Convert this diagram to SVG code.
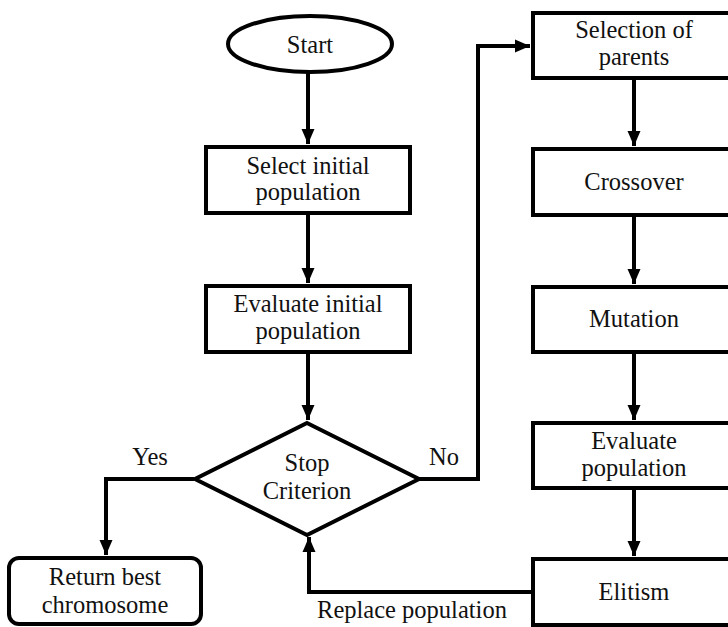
<svg xmlns="http://www.w3.org/2000/svg" width="728" height="627" viewBox="0 0 728 627">
<style>
.n{fill:#fff;stroke:#000;stroke-width:4}
.t{font-family:'Liberation Serif','Times New Roman',serif;font-size:24.5px;fill:#111;text-anchor:middle}
.c{fill:none;stroke:#000;stroke-width:4;marker-end:url(#ah)}
</style>
<defs>
<marker id="ah" markerUnits="userSpaceOnUse" markerWidth="16" markerHeight="16" viewBox="0 0 16 16" refX="15" refY="8" orient="auto">
<path d="M0,1.5 L15,8 L0,14.5 Z" fill="#000"/>
</marker>
</defs>
<rect width="728" height="627" fill="#fff"/>
<g id="connectors">
<path class="c" d="M308,72 V144"/>
<path class="c" d="M308,213 V283"/>
<path class="c" d="M308,353 V420"/>
<path class="c" d="M634,78 V146"/>
<path class="c" d="M634,215 V284"/>
<path class="c" d="M634,352 V420"/>
<path class="c" d="M634,488 V556"/>
<path class="c" d="M194,479 H106 V555"/>
<path class="c" d="M419,479 H478 V46 H530"/>
<path class="c" d="M532,592 H309 V537"/>
<text class="t" x="150" y="465">Yes</text>
<text class="t" x="444" y="465">No</text>
<text class="t" x="412" y="618">Replace population</text>
</g>
<g id="start">
<ellipse class="n" cx="310" cy="44" rx="82" ry="28"/>
<text class="t" x="310" y="53">Start</text>
</g>
<g id="select-initial">
<rect class="n" x="206" y="147" width="204" height="66"/>
<text class="t" x="308" y="174">Select initial</text>
<text class="t" x="308" y="200">population</text>
</g>
<g id="evaluate-initial">
<rect class="n" x="206" y="286" width="204" height="66"/>
<text class="t" x="308" y="312">Evaluate initial</text>
<text class="t" x="308" y="339">population</text>
</g>
<g id="stop">
<polygon class="n" points="307,423 419,479 307,535 195,479"/>
<text class="t" x="307" y="471">Stop</text>
<text class="t" x="307" y="499">Criterion</text>
</g>
<g id="return-best">
<rect class="n" x="9" y="558" width="192" height="66" rx="10" ry="10"/>
<text class="t" x="105" y="585">Return best</text>
<text class="t" x="105" y="613">chromosome</text>
</g>
<g id="selection">
<rect class="n" x="533" y="13" width="210" height="65"/>
<text class="t" x="634" y="38">Selection of</text>
<text class="t" x="634" y="65">parents</text>
</g>
<g id="crossover">
<rect class="n" x="533" y="149" width="210" height="66"/>
<text class="t" x="634" y="190">Crossover</text>
</g>
<g id="mutation">
<rect class="n" x="533" y="287" width="210" height="65"/>
<text class="t" x="634" y="327">Mutation</text>
</g>
<g id="evaluate-pop">
<rect class="n" x="533" y="423" width="210" height="65"/>
<text class="t" x="634" y="449">Evaluate</text>
<text class="t" x="634" y="476">population</text>
</g>
<g id="elitism">
<rect class="n" x="533" y="559" width="210" height="66"/>
<text class="t" x="634" y="600">Elitism</text>
</g>
</svg>
